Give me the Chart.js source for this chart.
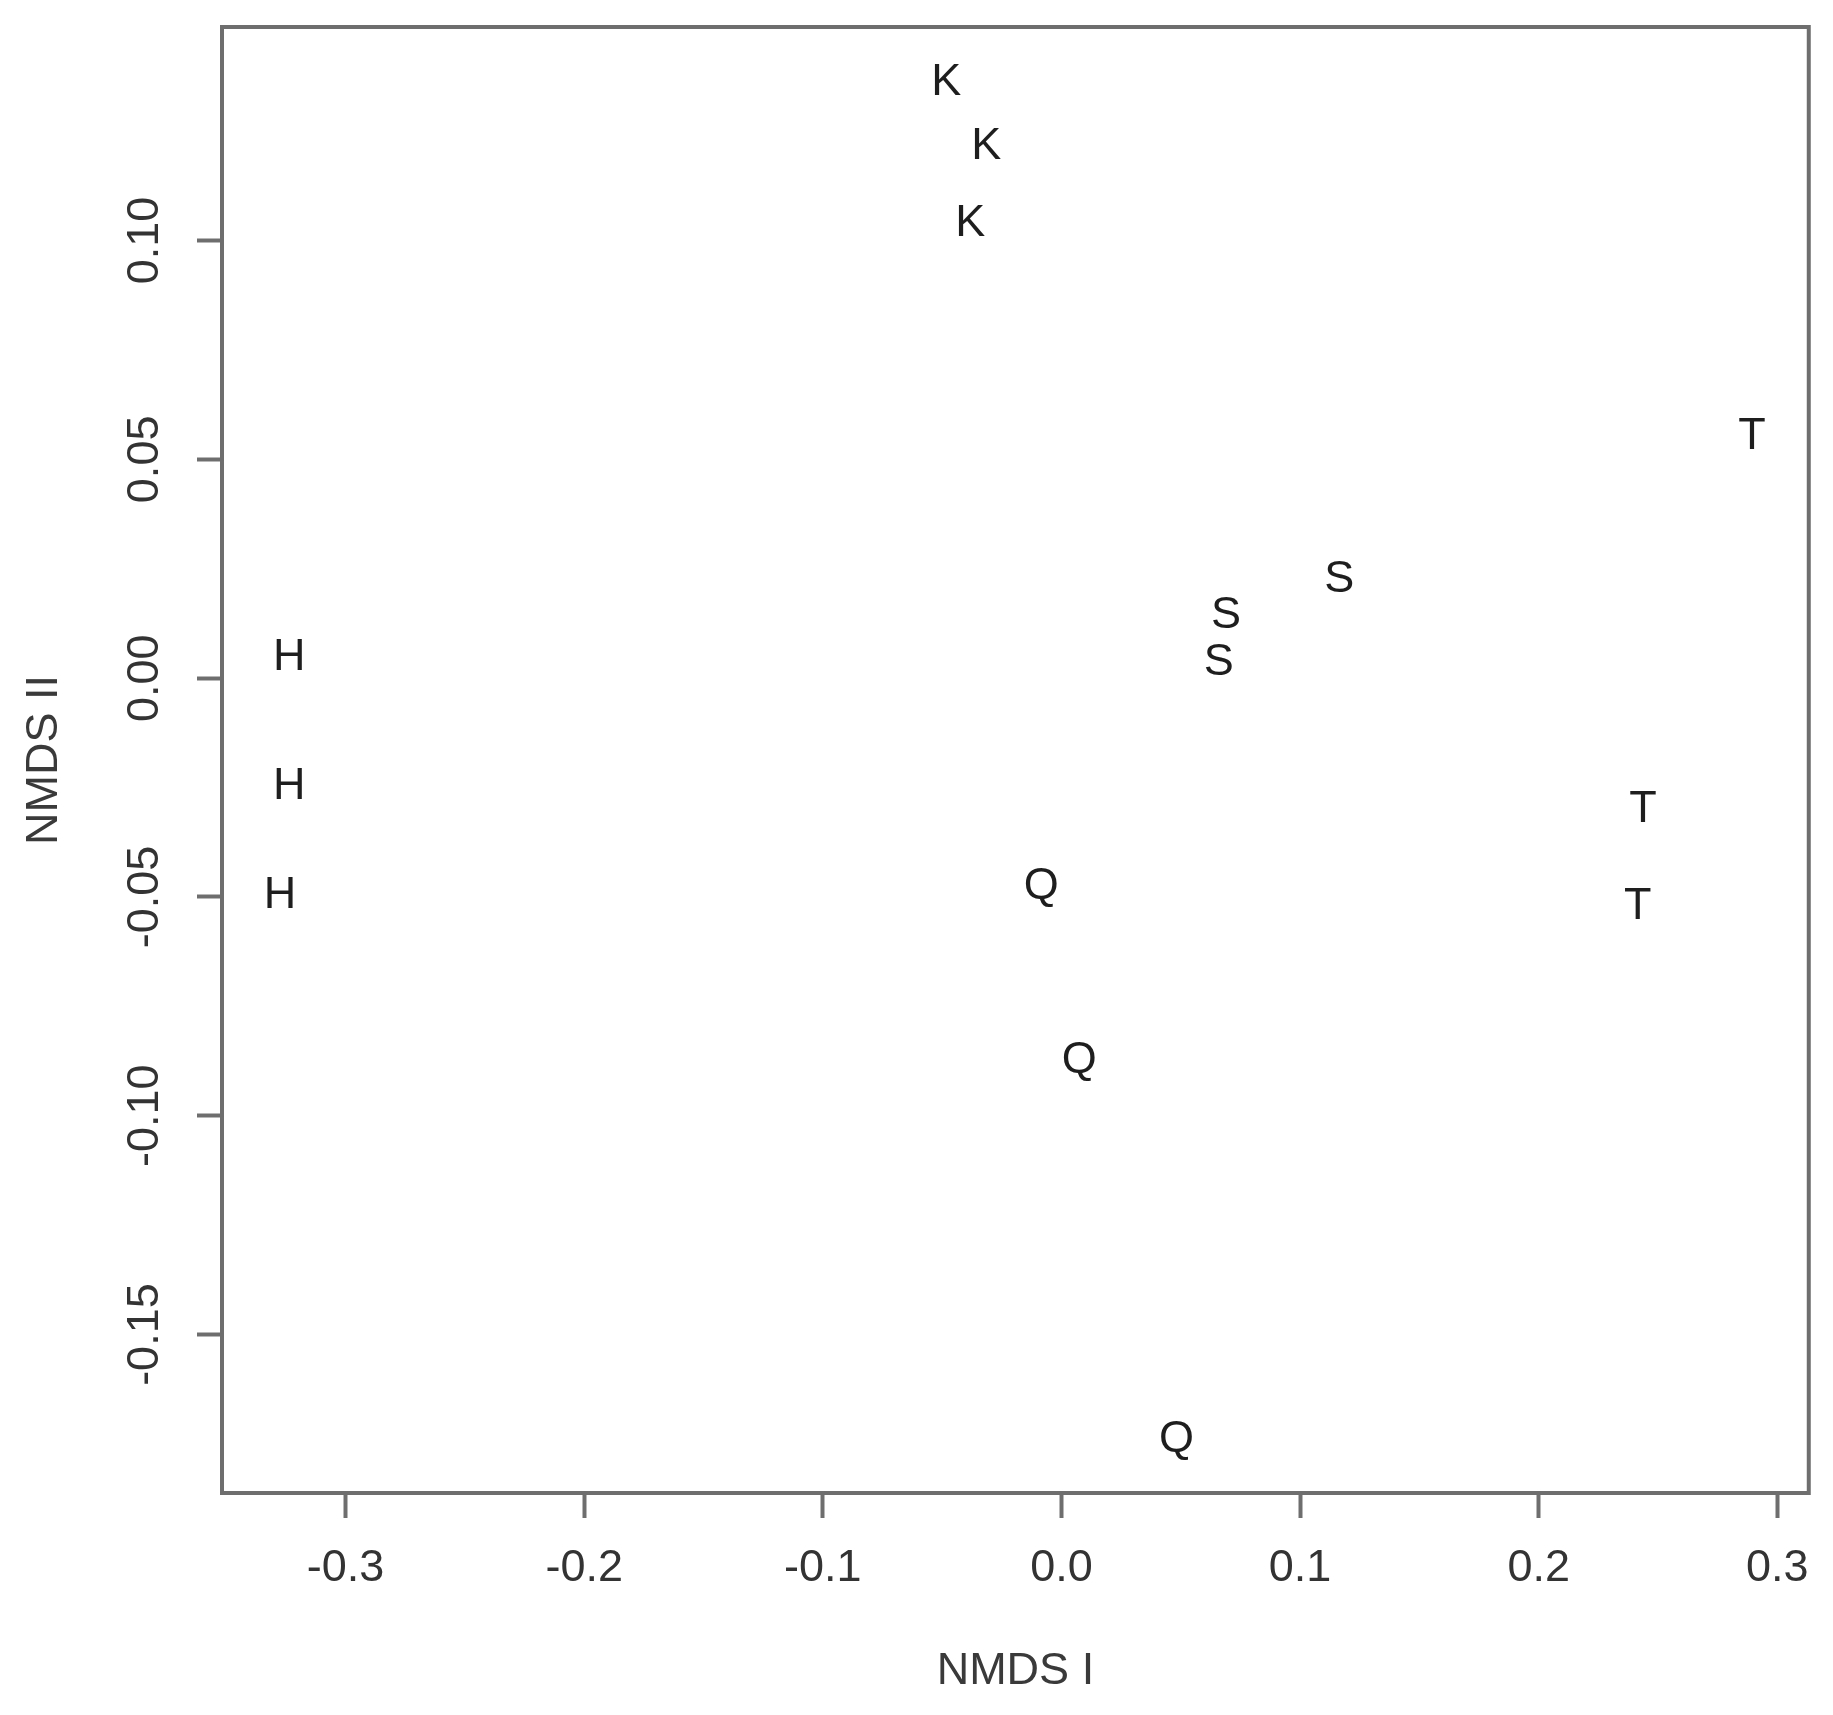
<!DOCTYPE html>
<html>
<head>
<meta charset="utf-8">
<script src="https://cdn.jsdelivr.net/npm/chart.js@4.4.1/dist/chart.umd.min.js"></script>
<style>
  html, body { margin: 0; padding: 0; background: #ffffff; }
  #wrap { width: 1833px; height: 1715px; position: relative; }
</style>
</head>
<body>
<div id="wrap"><canvas id="c"></canvas></div>
<script>
// ---- data ----
const sampleLabels = ['K','K','K','T','T','T','S','S','S','H','H','H','Q','Q','Q'];
const nmds1 = [-0.0483, -0.0315, -0.0382, 0.2894, 0.2437, 0.2415, 0.1164, 0.0690, 0.0659, -0.3236, -0.3236, -0.3275, -0.0085, 0.0075, 0.0482];
const nmds2 = [0.1360, 0.1215, 0.1039, 0.0551, -0.0301, -0.0521, 0.0226, 0.0144, 0.0036, 0.0046, -0.0248, -0.0497, -0.0476, -0.0875, -0.1741];
const xTickValues = [-0.3, -0.2, -0.1, 0.0, 0.1, 0.2, 0.3];
const yTickValues = [-0.15, -0.10, -0.05, 0.00, 0.05, 0.10];
const xAxisTitle = 'NMDS I';
const yAxisTitle = 'NMDS II';
const xRange = [-0.3518, 0.3132];
const yRange = [-0.1862, 0.1488];

const FONT = "'Liberation Sans', Arial, Helvetica, sans-serif";
const AXIS_GRAY = '#6e6e6e';

const points = nmds1.map((x, i) => ({ x: x, y: nmds2[i] }));

const textLabels = {
  id: 'textLabels',
  afterDatasetsDraw(chart) {
    const ctx = chart.ctx;
    const meta = chart.getDatasetMeta(0);
    ctx.save();
    ctx.font = '45px ' + FONT;
    ctx.fillStyle = '#1e1e1e';
    ctx.textAlign = 'center';
    ctx.textBaseline = 'middle';
    meta.data.forEach((el, i) => {
      ctx.fillText(sampleLabels[i], el.x, el.y);
    });
    ctx.restore();
  }
};

const boxFrame = {
  id: 'boxFrame',
  afterDraw(chart) {
    const a = chart.chartArea;
    const ctx = chart.ctx;
    ctx.save();
    ctx.strokeStyle = AXIS_GRAY;
    ctx.lineWidth = 4;
    ctx.strokeRect(a.left, a.top, a.right - a.left, a.bottom - a.top);
    ctx.restore();
  }
};

new Chart(document.getElementById('c'), {
  type: 'scatter',
  data: {
    datasets: [{
      data: points,
      pointRadius: 0,
      pointHoverRadius: 0,
      showLine: false
    }]
  },
  options: {
    responsive: true,
    maintainAspectRatio: false,
    animation: false,
    events: [],
    layout: { padding: { top: 23, right: 23, left: 0, bottom: 0 } },
    plugins: { legend: { display: false }, tooltip: { enabled: false } },
    scales: {
      x: {
        type: 'linear',
        position: 'bottom',
        min: xRange[0],
        max: xRange[1],
        afterBuildTicks: s => { s.ticks = xTickValues.map(v => ({ value: v })); },
        afterFit: s => { s.height = 222; },
        grid: { drawOnChartArea: false, drawTicks: true, tickLength: 25, tickWidth: 4, tickColor: AXIS_GRAY },
        border: { display: false },
        ticks: {
          padding: 24,
          color: '#333333',
          font: { family: FONT, size: 45 },
          maxRotation: 0,
          autoSkip: false,
          callback: v => Number(v).toFixed(1)
        },
        title: {
          display: true,
          text: xAxisTitle,
          color: '#3a3a3a',
          font: { family: FONT, size: 45 },
          padding: { top: 0, bottom: 16 }
        }
      },
      y: {
        type: 'linear',
        position: 'left',
        min: yRange[0],
        max: yRange[1],
        afterBuildTicks: s => { s.ticks = yTickValues.map(v => ({ value: v })); },
        afterFit: s => { s.width = 222; },
        grid: { drawOnChartArea: false, drawTicks: true, tickLength: 25, tickWidth: 4, tickColor: AXIS_GRAY },
        border: { display: false },
        ticks: {
          padding: 0,
          crossAlign: 'center',
          minRotation: 90,
          maxRotation: 90,
          color: '#333333',
          font: { family: FONT, size: 45 },
          autoSkip: false,
          callback: v => Number(v).toFixed(2)
        },
        title: {
          display: true,
          text: yAxisTitle,
          color: '#3a3a3a',
          font: { family: FONT, size: 45 },
          padding: { top: 18, bottom: 0 }
        }
      }
    }
  },
  plugins: [textLabels, boxFrame]
});
</script>
</body>
</html>
